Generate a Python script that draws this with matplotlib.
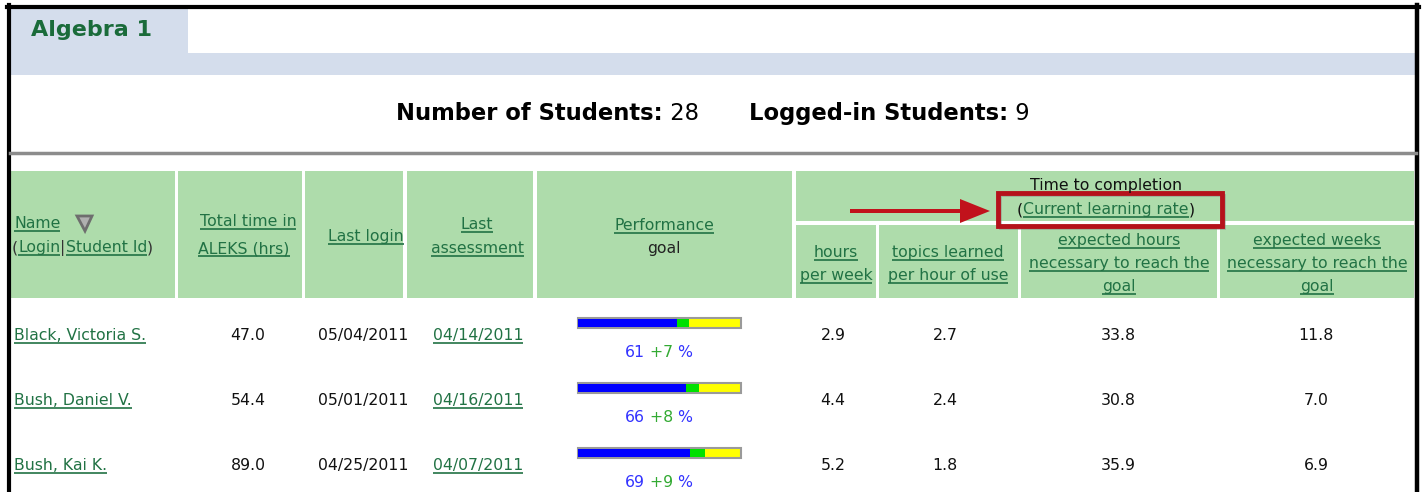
import matplotlib
matplotlib.use("Agg")
import matplotlib.pyplot as plt
from matplotlib.patches import Rectangle, Polygon, FancyArrow

# ---- data ----
names = ["Black, Victoria S.", "Bush, Daniel V.", "Bush, Kai K."]
total_hrs = [47.0, 54.4, 89.0]
last_login = ["05/04/2011", "05/01/2011", "04/25/2011"]
last_assess = ["04/14/2011", "04/16/2011", "04/07/2011"]
perf = [61, 66, 69]
gain = [7, 8, 9]
hours_week = [2.9, 4.4, 5.2]
topics_hr = [2.7, 2.4, 1.8]
exp_hours = [33.8, 30.8, 35.9]
exp_weeks = [11.8, 7.0, 6.9]
n_students, n_logged = 28, 9

LINK = "#217244"
HEAD = "#aedcab"
TAB = "#d4ddec"
FONT = "DejaVu Sans"
FS = 11.3

W, H = 1424, 492
fig = plt.figure(figsize=(W / 100, H / 100), dpi=100)
ax = fig.add_axes([0, 0, 1, 1])
ax.set_xlim(0, W); ax.set_ylim(H, 0); ax.axis("off")
R = fig.canvas.get_renderer()


def run(x, y, parts, ha="center", size=FS, family=FONT):
    """parts: (text, color, underline[, weight]) pieces drawn side by side on one baseline."""
    yb = y + size * 0.45   # baseline for a line centred on y
    arts = []
    for p in parts:
        s, c, u = p[:3]
        wt = p[3] if len(p) > 3 else "normal"
        t = ax.text(0, yb, s, color=c, fontsize=size, fontweight=wt, family=family,
                    va="baseline", ha="left")
        arts.append((t, t.get_window_extent(R).width, c, u))
    total = sum(a[1] for a in arts)
    x0 = x - total / 2 if ha == "center" else x
    for t, w, c, u in arts:
        t.set_x(x0)
        if u:
            uy = yb + size * 0.22
            ax.plot([x0, x0 + w], [uy, uy], color=c, lw=1.2, solid_capstyle="butt")
        x0 += w


def link(x, y, s, ha="center"):
    run(x, y, [(s, LINK, True)], ha=ha)


# ---- frame and tab ----
ax.add_patch(Rectangle((10, 53), 1406, 22, color=TAB, lw=0))
ax.add_patch(Rectangle((10, 8), 178, 46, color=TAB, lw=0))
ax.plot([8.5, 8.5], [5, H], color="black", lw=3)
ax.plot([1417, 1417], [5, H], color="black", lw=3.2)
ax.plot([7, 1418.5], [6.5, 6.5], color="black", lw=3)
ax.plot([10, 1416], [152.5, 152.5], color="#8c8c8c", lw=2.5)
ax.text(31, 30, "Algebra 1", color="#1a6b3a", fontsize=16, fontweight="bold",
        family="DejaVu Sans", va="center", ha="left")

run(713, 113, [("Number of Students:", "black", False, "bold"), (" %d" % n_students, "black", False),
               ("       ", "black", False),
               ("Logged-in Students:", "black", False, "bold"), (" %d" % n_logged, "black", False)],
    size=16.3)

# ---- header cells ----
cells = [(11, 171, 164, 127), (178, 171, 124, 127), (305, 171, 98, 127), (407, 171, 126, 127),
         (537, 171, 255, 127), (796, 171, 618, 50), (796, 225, 80, 73), (879, 225, 139, 73),
         (1021, 225, 196, 73), (1220, 225, 194, 73)]
for x, y, w, h in cells:
    ax.add_patch(Rectangle((x, y), w, h, color=HEAD, lw=0))

link(14, 223, "Name", ha="left")
ax.add_patch(Polygon([(77, 216), (92, 216), (85, 231)], closed=True, fc="#b0b0b0", ec="#6e6e6e", lw=2))
run(12, 247, [("(", "#333", False), ("Login", LINK, True), ("|", "#333", False),
              ("Student Id", LINK, True), (")", "#333", False)], ha="left")
link(248, 221, "Total time in")
link(244, 248, "ALEKS (hrs)")
link(366, 236, "Last login")
link(477, 224, "Last")
link(477, 248, "assessment")
link(664, 225, "Performance")
run(664, 248, [("goal", "#222", False)])
run(1106, 185, [("Time to completion", "#111", False)])
run(1106, 209, [("(", "#111", False), ("Current learning rate", LINK, True), (")", "#111", False)])
link(836, 252, "hours")
link(836, 275, "per week")
link(948, 252, "topics learned")
link(948, 275, "per hour of use")
for cx, word in [(1119, "hours"), (1317, "weeks")]:
    link(cx, 240, "expected " + word)
    link(cx, 263, "necessary to reach the")
    link(cx, 286, "goal")

# red highlight + arrow
ax.add_patch(Rectangle((1000, 195), 224, 33, fc="none", ec="#888", lw=2, alpha=0.5))
ax.add_patch(Rectangle((998, 193), 224, 33, fc="none", ec="#b5121b", lw=3.5))
ax.add_patch(FancyArrow(850, 211, 110, 0, width=4, head_width=24, head_length=30,
                        length_includes_head=False, color="#c1121c", lw=0))

# ---- rows ----
row_y = [335, 400, 465]
bx, bw = 578, 163
for i, y in enumerate(row_y):
    link(14, y, names[i], ha="left")
    run(248, y, [("%.1f" % total_hrs[i], "#111", False)])
    run(363, y, [(last_login[i], "#111", False)])
    link(478, y, last_assess[i])
    by = y - 12
    ax.barh(by, bw, left=bx, height=10, color="#ffff00", edgecolor="#9a9a9a", lw=1.5)
    ax.barh(by, perf[i] / 100 * bw, left=bx, height=8, color="#0000ff", lw=0)
    ax.barh(by, gain[i] / 100 * bw, left=bx + perf[i] / 100 * bw, height=8, color="#00e000", lw=0)
    run(659, y + 17, [("%d" % perf[i], "#3333ff", False), (" +%d" % gain[i], "#33aa33", False),
                      (" %", "#3333ff", False)])
    run(833, y, [("%.1f" % hours_week[i], "#111", False)])
    run(945, y, [("%.1f" % topics_hr[i], "#111", False)])
    run(1118, y, [("%.1f" % exp_hours[i], "#111", False)])
    run(1316, y, [("%.1f" % exp_weeks[i], "#111", False)])

fig.savefig("out.png", dpi=100)
